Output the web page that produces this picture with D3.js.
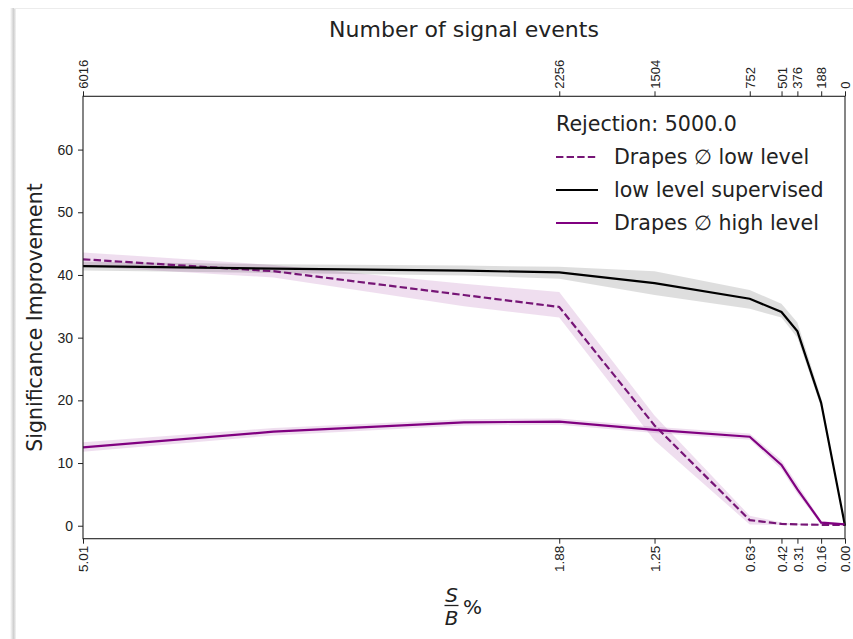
<!DOCTYPE html>
<html>
<head>
<meta charset="utf-8">
<script src="https://cdn.jsdelivr.net/npm/d3@7"></script>
<style>
  body { margin: 0; background: #fff; }
  svg { display: block; font-family: 'DejaVu Sans', sans-serif; }
  .tick text { fill: #222; }
  .chart-label { fill: #222; }
</style>
</head>
<body>
<svg></svg>
<script>
// S/B (%) positions of the scan points, reversed axis
const sbValues = [5.013, 3.760, 2.507, 1.880, 1.253, 0.627, 0.418, 0.313, 0.157, 0.000]

// Drapes low level (dashed)
const lowLevel = [42.5, 40.6, 36.8, 34.9, 16.0, 0.9, 0.3, 0.2, 0.15, 0.15]
const lowLevelLo = [41.4, 39.6, 35.0, 33.2, 13.6, 0.2, 0.1, 0.1, 0.1, 0.1]
const lowLevelHi = [43.6, 41.6, 38.6, 37.3, 17.6, 1.6, 0.5, 0.3, 0.2, 0.2]

// low level supervised (black)
const supervised = [41.4, 41.0, 40.7, 40.4, 38.7, 36.2, 34.1, 31.0, 19.6, 0.0]
const supervisedLo = [40.7, 40.3, 39.9, 39.4, 36.8, 34.6, 33.2, 30.0, 18.9, -0.1]
const supervisedHi = [42.1, 41.7, 41.5, 41.3, 40.6, 37.6, 35.4, 32.4, 20.4, 0.1]

// Drapes high level (solid purple)
const highLevel = [12.5, 15.0, 16.5, 16.6, 15.3, 14.2, 9.7, 5.8, 0.5, 0.2]
const highLevelLo = [11.8, 14.4, 16.0, 16.1, 14.8, 13.7, 9.0, 5.1, 0.2, 0.1]
const highLevelHi = [13.3, 15.6, 17.0, 17.1, 15.8, 14.7, 10.4, 6.6, 0.8, 0.3]

// tick values and labels
const sbTicks = [5.013, 1.880, 1.253, 0.627, 0.418, 0.313, 0.157, 0]
const sbTickLabels = ['5.01', '1.88', '1.25', '0.63', '0.42', '0.31', '0.16', '0.00']
const signalTicks = [6016, 2256, 1504, 752, 501, 376, 188, 0]
const yTicks = [0, 10, 20, 30, 40, 50, 60]

const legendTitle = 'Rejection: 5000.0'
const legendNames = ['Drapes \u2205 low level', 'low level supervised', 'Drapes \u2205 high level']

const app = () => {
  // Set chart dimensions
  const w = 853
  const h = 639
  const left = 83
  const right = 845
  const top = 96.3
  const bottom = 538.7

  const svg = d3.select('svg')
    .attr('width', w)
    .attr('height', h)

  // card edge shadow
  const grad = svg.append('defs').append('linearGradient')
    .attr('id', 'edge')
  grad.append('stop').attr('offset', '0%').attr('stop-color', '#fff')
  grad.append('stop').attr('offset', '60%').attr('stop-color', '#cfcfcf')
  grad.append('stop').attr('offset', '100%').attr('stop-color', '#f4f4f4')
  svg.append('rect')
    .attr('x', 10).attr('y', 8)
    .attr('width', 6).attr('height', h - 8)
    .attr('fill', 'url(#edge)')
  svg.append('line')
    .attr('x1', 14).attr('x2', w)
    .attr('y1', 8.5).attr('y2', 8.5)
    .attr('stroke', '#ececec')

  // scales
  const xScale = d3.scaleLinear()
    .domain([5.013, 0])
    .range([left, right])

  const xTopScale = d3.scaleLinear()
    .domain([6016, 0])
    .range([left, right])

  const yScale = d3.scaleLinear()
    .domain([-2.07, 68.5])
    .range([bottom, top])

  // bands
  const band = (lo, hi) => d3.area()
    .x((d, i) => xScale(sbValues[i]))
    .y0((d, i) => yScale(lo[i]))
    .y1((d, i) => yScale(hi[i]))

  svg.append('path')
    .attr('d', band(lowLevelLo, lowLevelHi)(sbValues))
    .attr('fill', '#800080')
    .attr('fill-opacity', 0.13)
  svg.append('path')
    .attr('d', band(supervisedLo, supervisedHi)(sbValues))
    .attr('fill', '#000')
    .attr('fill-opacity', 0.13)
  svg.append('path')
    .attr('d', band(highLevelLo, highLevelHi)(sbValues))
    .attr('fill', '#800080')
    .attr('fill-opacity', 0.13)

  // lines
  const line = d3.line()
    .x((d, i) => xScale(sbValues[i]))
    .y((d) => yScale(d))

  const series = [
    { values: lowLevel, color: '#761576', dash: '7.4,3.2' },
    { values: supervised, color: '#000', dash: null },
    { values: highLevel, color: '#800080', dash: null }
  ]

  series.forEach((s) => {
    svg.append('path')
      .attr('d', line(s.values))
      .attr('fill', 'none')
      .attr('stroke', s.color)
      .attr('stroke-width', 2.2)
      .attr('stroke-dasharray', s.dash)
  })

  // axes
  const yAxis = d3.axisLeft(yScale)
    .tickValues(yTicks)
    .tickSize(5)
    .tickPadding(5)
    .tickSizeOuter(0)

  svg.append('g')
    .attr('transform', `translate(${left}, 0)`)
    .call(yAxis)
    .call((g) => g.select('.domain').remove())
    .selectAll('text')
    .style('font-size', '14px')

  const xAxis = d3.axisBottom(xScale)
    .tickValues(sbTicks)
    .tickFormat((d, i) => sbTickLabels[i])
    .tickSize(5)

  svg.append('g')
    .attr('transform', `translate(0, ${bottom})`)
    .call(xAxis)
    .call((g) => g.select('.domain').remove())
    .selectAll('text')
    .style('font-size', '13.5px')
    .attr('text-anchor', 'end')
    .attr('transform', 'rotate(-90)')
    .attr('x', -7)
    .attr('y', 0)
    .attr('dy', '0.35em')

  const xTopAxis = d3.axisTop(xTopScale)
    .tickValues(signalTicks)
    .tickFormat(d3.format('d'))
    .tickSize(5)

  svg.append('g')
    .attr('transform', `translate(0, ${top})`)
    .call(xTopAxis)
    .call((g) => g.select('.domain').remove())
    .selectAll('text')
    .style('font-size', '13px')
    .attr('text-anchor', 'start')
    .attr('transform', 'rotate(-90)')
    .attr('x', 7.5)
    .attr('y', 0)
    .attr('dy', '0.35em')

  svg.selectAll('.tick line').attr('stroke', '#222')

  // frame
  svg.append('rect')
    .attr('x', left)
    .attr('y', top)
    .attr('width', right - left)
    .attr('height', bottom - top)
    .attr('fill', 'none')
    .attr('stroke', '#222')
    .attr('stroke-width', 1.1)

  // axis labels
  svg.append('text')
    .attr('class', 'chart-label')
    .attr('text-anchor', 'middle')
    .attr('x', (left + right) / 2)
    .attr('y', 37)
    .style('font-size', '22px')
    .text('Number of signal events')

  svg.append('text')
    .attr('class', 'chart-label')
    .attr('text-anchor', 'middle')
    .attr('transform', `translate(42, ${(top + bottom) / 2})rotate(-90)`)
    .style('font-size', '20.5px')
    .text('Significance Improvement')

  // S/B % fraction label
  const frac = svg.append('g')
    .attr('class', 'chart-label')
    .style('font-size', '20px')
  frac.append('text')
    .attr('x', 451.5).attr('y', 602)
    .attr('text-anchor', 'middle')
    .style('font-style', 'italic')
    .text('S')
  frac.append('line')
    .attr('x1', 444.5).attr('x2', 458.5)
    .attr('y1', 605.5).attr('y2', 605.5)
    .attr('stroke', '#222')
    .attr('stroke-width', 1.3)
  frac.append('text')
    .attr('x', 451.5).attr('y', 625)
    .attr('text-anchor', 'middle')
    .style('font-style', 'italic')
    .text('B')
  frac.append('text')
    .attr('x', 463).attr('y', 614)
    .text('%')

  // legend
  const legend = svg.append('g')
    .attr('class', 'chart-label')
    .style('font-size', '20.6px')

  legend.append('text')
    .attr('x', 556)
    .attr('y', 131)
    .text(legendTitle)

  legendNames.forEach((name, i) => {
    const y = 157 + i * 33
    legend.append('line')
      .attr('x1', 556).attr('x2', 598)
      .attr('y1', y).attr('y2', y)
      .attr('stroke', series[i].color)
      .attr('stroke-width', 2.2)
      .attr('stroke-dasharray', series[i].dash)
    legend.append('text')
      .attr('x', 614)
      .attr('y', y + 7)
      .text(name)
  })
}

app()
</script>
</body>
</html>
